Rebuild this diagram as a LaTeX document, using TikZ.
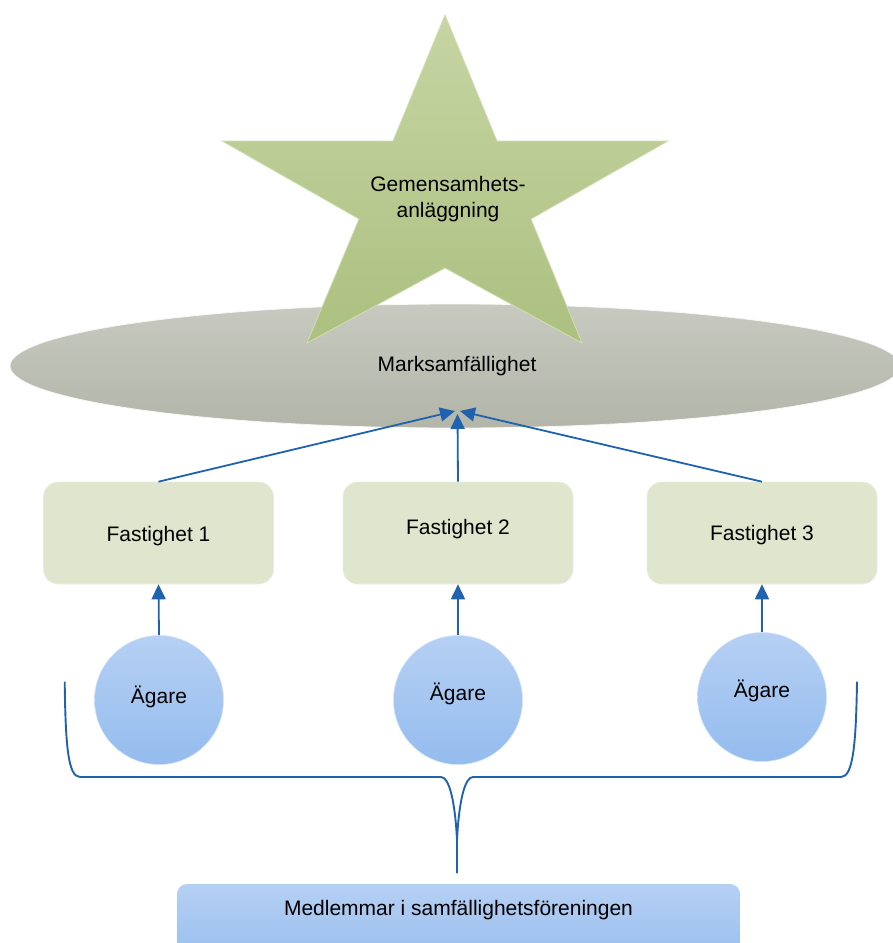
\documentclass[tikz,border=0pt]{standalone}
\usepackage{fontspec}
\setmainfont{Liberation Sans}
\usetikzlibrary{shapes.geometric,arrows.meta}

\definecolor{linkblue}{RGB}{31,98,175}
\definecolor{starTop}{RGB}{198,213,163}
\definecolor{starBot}{RGB}{172,192,128}
\definecolor{starEdge}{RGB}{208,222,178}
\definecolor{landTop}{RGB}{200,202,193}
\definecolor{landBot}{RGB}{178,181,168}
\definecolor{propFill}{RGB}{224,230,206}
\definecolor{ownerTop}{RGB}{182,208,244}
\definecolor{ownerBot}{RGB}{148,188,238}

\tikzset{
  lbl/.style={font=\fontsize{21}{26}\selectfont, text=black, align=center, inner sep=0pt},
  landshape/.style={ellipse, minimum width=890pt, minimum height=124pt, inner sep=0pt,
    top color=landTop, bottom color=landBot, draw=white!85!landTop, line width=0.8pt},
  propbox/.style={rectangle, rounded corners=15pt, minimum width=230pt, minimum height=102pt,
    inner sep=0pt, fill=propFill, draw=propFill!70!white, line width=0.6pt},
  owner/.style={circle, minimum size=129pt, inner sep=0pt,
    top color=ownerTop, bottom color=ownerBot, draw=ownerTop!60!white, line width=0.6pt},
  link/.style={draw=linkblue, line width=1.8pt, -{Triangle[length=15pt,width=14pt]}},
  braceline/.style={draw=linkblue, line width=1.9pt}
}

\begin{document}
\begin{tikzpicture}[x=1pt,y=-1pt]
  \useasboundingbox (0,0) rectangle (893,943);
  \clip (0,0) rectangle (893,943);

  % shared land area
  \node[landshape] (mark) at (455,366) {};
  \node[lbl] (marktext) at (457,366) {Marksamfällighet};

  % joint facility star
  \shade[top color=starTop, bottom color=starBot, draw=starEdge, line width=0.8pt]
    (445,15) -- (497,141) -- (668,141) -- (531,219) -- (582,343)
    -- (445,268) -- (307,343) -- (359,219) -- (222,141) -- (393,141) -- cycle;
  \node[lbl] (facility) at (448,199) {Gemensamhets-\\anläggning};

  % properties
  \node[propbox] (f1) at (158.5,533) {};
  \node[propbox] (f2) at (458,533) {};
  \node[propbox] (f3) at (762,533) {};
  \node[lbl] (f1t) at ([yshift=-3pt]f1.center) {Fastighet 1};
  \node[lbl] (f2t) at ([yshift=4pt]f2.center) {Fastighet 2};
  \node[lbl] (f3t) at ([yshift=-2pt]f3.center) {Fastighet 3};

  % owners
  \node[owner] (o1) at (159,700) {};
  \node[owner] (o2) at (458,700) {};
  \node[owner] (o3) at (762,697) {};
  \node[lbl] (o1t) at ([yshift=3pt]o1.center) {Ägare};
  \node[lbl] (o2t) at ([yshift=6pt]o2.center) {Ägare};
  \node[lbl] (o3t) at ([yshift=6pt]o3.center) {Ägare};

  % arrow targets inside the land area
  \coordinate (hubL) at (455,411);
  \coordinate (hubM) at (457.5,414);
  \coordinate (hubR) at (460,411);

  \draw[link] (f1.north) -- (hubL);
  \draw[link] (f2.north) -- (hubM);
  \draw[link] (f3.north) -- (hubR);

  \draw[link] (o1.north) -- (f1.south);
  \draw[link] (o2.north) -- (f2.south);
  \draw[link] (o3.north) -- (f3.south);

  % brace gathering the owners
  \coordinate (braceTip) at (457,873);
  \draw[braceline] (64.7,681.7) .. controls (65.5,745) and (68,777) .. (80,777)
    -- (441,777) .. controls (449,777) and (455,800) .. (457,840) -- (braceTip);
  \draw[braceline] (857,681.7) .. controls (856,745) and (853,777) .. (841,777)
    -- (473,777) .. controls (465,777) and (459,800) .. (457,840) -- (braceTip);

  % association members
  \shade[top color=ownerTop, bottom color=ownerBot, rounded corners=10pt]
    (177,884) rectangle (740,970);
  \node[lbl] (members) at (458.5,910) {Medlemmar i samfällighetsföreningen};
\end{tikzpicture}
\end{document}
